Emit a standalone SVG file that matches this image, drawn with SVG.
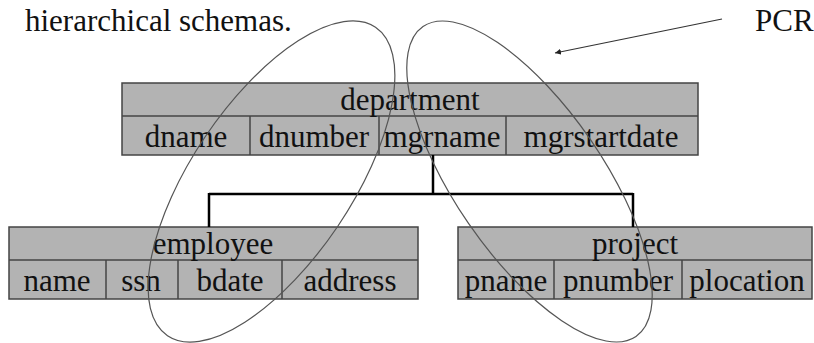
<svg xmlns="http://www.w3.org/2000/svg" width="814" height="343" viewBox="0 0 814 343">
<style>
.t{font-family:"Liberation Serif","Times New Roman",serif;font-size:31px;fill:#111;text-anchor:middle}
.cell{fill:#b3b3b3;stroke:#444;stroke-width:1.5}
.div{stroke:#444;stroke-width:1.5}
.conn{fill:none;stroke:#000;stroke-width:2.5}
.ell{fill:none;stroke:#555;stroke-width:1.2}
</style>
<defs>
<marker id="ah" markerWidth="8" markerHeight="8" refX="6" refY="3" orient="auto" markerUnits="userSpaceOnUse">
<path d="M0,0 L6,3 L0,6 z" fill="#222"/>
</marker>
</defs>
<rect width="814" height="343" fill="#fff"/>
<text class="t" x="25" y="31" style="text-anchor:start">hierarchical schemas.</text>
<text class="t" x="755" y="31" style="text-anchor:start">PCR</text>

<g id="department">
<rect class="cell" x="122" y="83" width="576" height="72"/>
<line class="div" x1="122" y1="116" x2="698" y2="116"/>
<line class="div" x1="250" y1="116" x2="250" y2="155"/>
<line class="div" x1="379" y1="116" x2="379" y2="155"/>
<line class="div" x1="506" y1="116" x2="506" y2="155"/>
<text class="t" x="410" y="110">department</text>
<text class="t" x="186" y="147">dname</text>
<text class="t" x="314" y="147">dnumber</text>
<text class="t" x="442" y="147">mgrname</text>
<text class="t" x="601" y="147">mgrstartdate</text>
</g>

<g id="employee">
<rect class="cell" x="9" y="227" width="409" height="72"/>
<line class="div" x1="9" y1="260" x2="418" y2="260"/>
<line class="div" x1="106" y1="260" x2="106" y2="299"/>
<line class="div" x1="178" y1="260" x2="178" y2="299"/>
<line class="div" x1="282" y1="260" x2="282" y2="299"/>
<text class="t" x="213" y="254">employee</text>
<text class="t" x="57" y="291">name</text>
<text class="t" x="141" y="291">ssn</text>
<text class="t" x="230" y="291">bdate</text>
<text class="t" x="350" y="291">address</text>
</g>

<g id="project">
<rect class="cell" x="458" y="227" width="354" height="72"/>
<line class="div" x1="458" y1="260" x2="812" y2="260"/>
<line class="div" x1="554" y1="260" x2="554" y2="299"/>
<line class="div" x1="682" y1="260" x2="682" y2="299"/>
<text class="t" x="635" y="254">project</text>
<text class="t" x="506" y="291">pname</text>
<text class="t" x="618" y="291">pnumber</text>
<text class="t" x="747" y="291">plocation</text>
</g>

<g id="connectors">
<path class="conn" d="M433,155 V194 M209,194 H633 M209,193 V227 M633,193 V227"/>
<line x1="722" y1="19" x2="555" y2="53" stroke="#333" stroke-width="1.2" marker-end="url(#ah)"/>
</g>

<g id="pcr-regions">
<ellipse class="ell" cx="271.5" cy="181.5" rx="186" ry="80" transform="rotate(-56 271.5 181.5)"/>
<ellipse class="ell" cx="529.5" cy="181.5" rx="188" ry="74" transform="rotate(55.5 529.5 181.5)"/>
</g>
</svg>
